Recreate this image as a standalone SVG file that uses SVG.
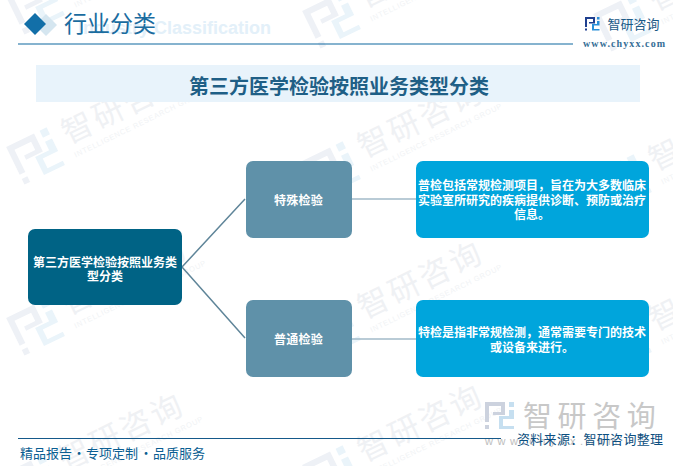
<svg xmlns="http://www.w3.org/2000/svg" xmlns:xlink="http://www.w3.org/1999/xlink" width="673" height="466" viewBox="0 0 673 466">
<style>
text{font-family:"Noto Sans CJK SC","Liberation Sans",sans-serif}
.w{fill:#fff;font-weight:700;font-size:12px;text-anchor:middle;dominant-baseline:central}
.root{fill:#006385}.mid{fill:#5f91a9}.leaf{fill:#00a5dc}
.c1{stroke:#5f8599;stroke-width:1.5;fill:none}.c2{stroke:#a3bbc9;stroke-width:1.5;fill:none}
.wmt{font-size:31px;fill:#eff1f4;letter-spacing:3px}
.wms{font-size:7.4px;fill:#f1f3f5;letter-spacing:.75px;font-family:"Liberation Sans",sans-serif}
</style>
<defs>
<path id="ia" d="M0 0H20V13H8V10H16V4H4V20H0ZM0 23H4V27H0Z"/>
<path id="ib" d="M24 0H29V5H24ZM24 8H29V17H18V24H29V27H14V14H24Z"/>
<g id="wm">
<g transform="rotate(-26)">
<g transform="translate(-72,-14) scale(1.55)"><use xlink:href="#ia" fill="#eef1f6"/><use xlink:href="#ib" fill="#eaf4fa"/></g>
<text class="wmt" x="-15" y="11">智研咨询</text>
<text class="wms" x="-14" y="26">INTELLIGENCE RESEARCH GROUP</text>
</g>
</g>
</defs>
<rect width="673" height="466" fill="#fff"/>
<g id="watermarks">
<use xlink:href="#wm" transform="translate(77,128)"/>
<use xlink:href="#wm" transform="translate(373,142)"/>
<use xlink:href="#wm" transform="translate(664,155)"/>
<use xlink:href="#wm" transform="translate(77,299)"/>
<use xlink:href="#wm" transform="translate(373,303)"/>
<use xlink:href="#wm" transform="translate(664,315)"/>
<use xlink:href="#wm" transform="translate(74,455)"/>
<use xlink:href="#wm" transform="translate(373,446)"/>
<use xlink:href="#wm" transform="translate(77,-22)"/>
<use xlink:href="#wm" transform="translate(373,-8)"/>
<use xlink:href="#wm" transform="translate(664,-5)"/>
</g>
<g id="header">
<path d="M46 14l11 11-11 11-11-11z" fill="#d5e6f0"/>
<path d="M35 13l11 11-11 11-11-11z" fill="#126fa8"/>
<text x="78" y="34" font-size="18" font-weight="700" fill="#e3f0f9" style="font-family:'Liberation Sans',sans-serif">Industry Classification</text>
<text x="64" y="32" font-size="23" fill="#1a6c9f">行业分类</text>
<path d="M18 44H573" stroke="#0f68a0" stroke-width="1.2"/>
</g>
<g id="logo">
<g transform="translate(585,17) scale(.5)"><use xlink:href="#ia" fill="#1f3f8f"/><use xlink:href="#ib" fill="#2a8fd8"/></g>
<text x="607.5" y="29" font-size="13" fill="#1b5a87">智研咨询</text>
<text x="583" y="47" font-size="10" font-weight="700" letter-spacing="1.1" fill="#356e96" style="font-family:'Liberation Serif',serif">www.chyxx.com</text>
</g>
<g id="title">
<rect x="36" y="65" width="604" height="37" fill="#e8f3fb"/>
<text x="339" y="85" font-size="20" font-weight="700" fill="#1f5f86" text-anchor="middle" dominant-baseline="central">第三方医学检验按照业务类型分类</text>
</g>
<g id="connectors">
<path class="c1" d="M182 267L245 199M182 267L245 338"/>
<path class="c2" d="M352 199H416M352 339H416"/>
</g>
<g id="node-root">
<rect class="root" x="28" y="229" width="154" height="76" rx="7"/>
<text class="w" x="105" y="261">第三方医学检验按照业务类</text>
<text class="w" x="105" y="275">型分类</text>
</g>
<g id="node-special">
<rect class="mid" x="246" y="161" width="106" height="77" rx="7"/>
<text class="w" x="298.5" y="199" letter-spacing=".3">特殊检验</text>
</g>
<g id="node-general">
<rect class="mid" x="246" y="300" width="106" height="77" rx="7"/>
<text class="w" x="298.5" y="338" letter-spacing=".3">普通检验</text>
</g>
<g id="node-desc1">
<rect class="leaf" x="416" y="161" width="233" height="77" rx="7"/>
<text class="w" x="532" y="184">普检包括常规检测项目，旨在为大多数临床</text>
<text class="w" x="532" y="199">实验室所研究的疾病提供诊断、预防或治疗</text>
<text class="w" x="532" y="213">信息。</text>
</g>
<g id="node-desc2">
<rect class="leaf" x="416" y="300" width="233" height="77" rx="7"/>
<text class="w" x="532" y="331">特检是指非常规检测，通常需要专门的技术</text>
<text class="w" x="532" y="346">或设备来进行。</text>
</g>
<g id="footer">
<path d="M18 438.5H501" stroke="#15598a" stroke-width="1.2"/>
<g transform="translate(485,402)"><use xlink:href="#ia" fill="#ccd2de"/><use xlink:href="#ib" fill="#c6dff0"/></g>
<text x="523" y="427" font-size="29" letter-spacing="5.6" fill="#c8c8c8">智研咨询</text>
<text x="485" y="445" font-size="11" letter-spacing="4.5" fill="#bdbdbd" style="font-family:'Liberation Sans',sans-serif">www.chyxx.com</text>
<text font-size="13" fill="#0a5e92" y="458"><tspan x="20">精品报告</tspan><tspan x="72.5">·</tspan><tspan x="86">专项定制</tspan><tspan x="139.5">·</tspan><tspan x="153">品质服务</tspan></text>
<text x="517" y="444" font-size="13" letter-spacing=".3" fill="#0c4f80">资料来源：智研咨询整理</text>
</g>
</svg>
